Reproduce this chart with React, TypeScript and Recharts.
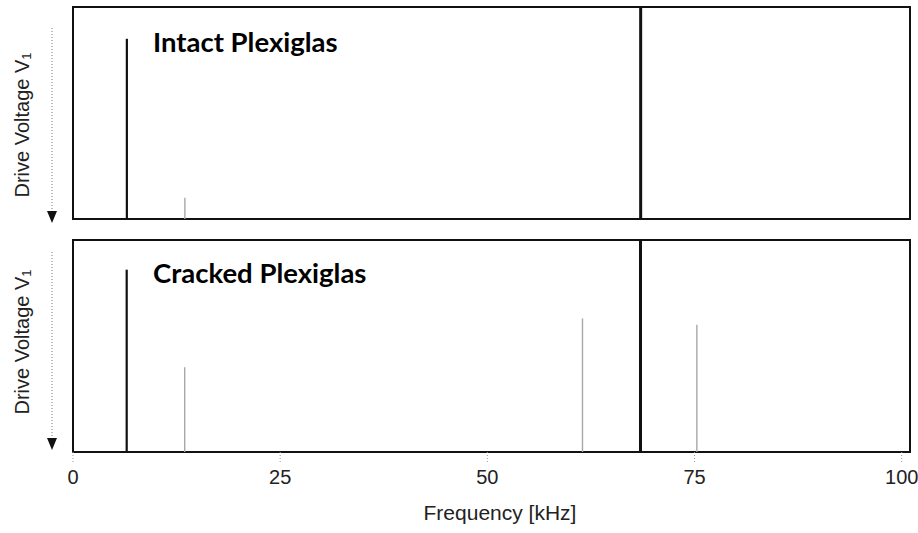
import { ComposedChart, Bar, XAxis, YAxis, ReferenceArea } from 'recharts'

// peak frequencies (kHz) and relative drive-voltage heights
const intactFreq = [6.5, 13.5, 68.5]
const intactAmp = [0.85, 0.1, 1.0]

const crackedFreq = [6.5, 13.5, 61.5, 68.5, 75.3]
const crackedAmp = [0.86, 0.4, 0.63, 1.0, 0.6]

const xTicks = [0, 25, 50, 75, 100]

const intactData = intactFreq.map((f, i) => ({ f, v: intactAmp[i] }))
const crackedData = crackedFreq.map((f, i) => ({ f, v: crackedAmp[i] }))

const W = 918
const MARGIN_X = { left: 73, right: 8 }

function Peak(props: any) {
  const { x, y, width, height, payload } = props
  const strong = payload.v >= 0.8
  const w = payload.v >= 1 ? 3 : strong ? 2.2 : 1.4
  const cx = x + width / 2
  return (
    <rect
      x={cx - w / 2}
      y={y}
      width={w}
      height={height}
      fill={strong ? '#111' : '#a8a8a8'}
    />
  )
}

function Arrow({ top, bottom }: { top: number; bottom: number }) {
  return (
    <g>
      <line x1={52} y1={top} x2={52} y2={bottom - 10} stroke="#777" strokeWidth={1} strokeDasharray="1 2" />
      <path d={`M47,${bottom - 12} L57,${bottom - 12} L52,${bottom} Z`} fill="#111" />
    </g>
  )
}

function YTitle({ cy }: { cy: number }) {
  return (
    <text
      x={22}
      y={cy}
      transform={`rotate(-90 22 ${cy})`}
      textAnchor="middle"
      dominantBaseline="central"
      fontFamily="'Liberation Sans', Arial, sans-serif"
      fontSize={20}
      fill="#222"
    >
      Drive Voltage V<tspan fontSize={13} dy={4}>1</tspan>
    </text>
  )
}

export default function App() {
  return (
    <div style={{ position: 'absolute', left: 0, top: 0, width: W, height: 533, background: '#fff' }}>
      <div style={{ position: 'absolute', left: 0, top: 0 }}>
        <ComposedChart width={W} height={230} data={intactData} margin={{ top: 7, bottom: 11, ...MARGIN_X }}>
          <XAxis dataKey="f" type="number" domain={[0, 101]} hide />
          <YAxis type="number" domain={[0, 1]} hide />
          <ReferenceArea x1={0} x2={101} y1={0} y2={1} fill="none" stroke="#111" strokeWidth={2} strokeOpacity={1} />
          <Bar dataKey="v" barSize={4} shape={<Peak />} isAnimationActive={false} />
        </ComposedChart>
      </div>
      <div style={{ position: 'absolute', left: 0, top: 233 }}>
        <ComposedChart width={W} height={300} data={crackedData} margin={{ top: 7, bottom: 51, ...MARGIN_X }}>
          <XAxis
            dataKey="f"
            type="number"
            domain={[0, 101]}
            ticks={xTicks}
            height={30}
            axisLine={false}
            tickSize={10}
            tickMargin={8}
            tickLine={{ stroke: '#999', strokeDasharray: '1 2' }}
            tick={{ fill: '#222', fontSize: 20, fontFamily: "'Liberation Sans', Arial, sans-serif" }}
          />
          <YAxis type="number" domain={[0, 1]} hide />
          <ReferenceArea x1={0} x2={101} y1={0} y2={1} fill="none" stroke="#111" strokeWidth={2} strokeOpacity={1} />
          <Bar dataKey="v" barSize={4} shape={<Peak />} isAnimationActive={false} />
        </ComposedChart>
      </div>
      <svg width={W} height={533} style={{ position: 'absolute', left: 0, top: 0, pointerEvents: 'none' }}>
        <YTitle cy={125} />
        <YTitle cy={342} />
        <Arrow top={28} bottom={223} />
        <Arrow top={252} bottom={450} />
        <text x={153} y={52} fontFamily="Lato, 'Open Sans', sans-serif" fontWeight="bold" fontSize={27.5} fill="#000">
          Intact Plexiglas
        </text>
        <text x={153} y={283} fontFamily="Lato, 'Open Sans', sans-serif" fontWeight="bold" fontSize={27.5} fill="#000">
          Cracked Plexiglas
        </text>
        <text
          x={500}
          y={520}
          textAnchor="middle"
          fontFamily="'Liberation Sans', Arial, sans-serif"
          fontSize={21}
          fill="#222"
        >
          Frequency [kHz]
        </text>
      </svg>
    </div>
  )
}
